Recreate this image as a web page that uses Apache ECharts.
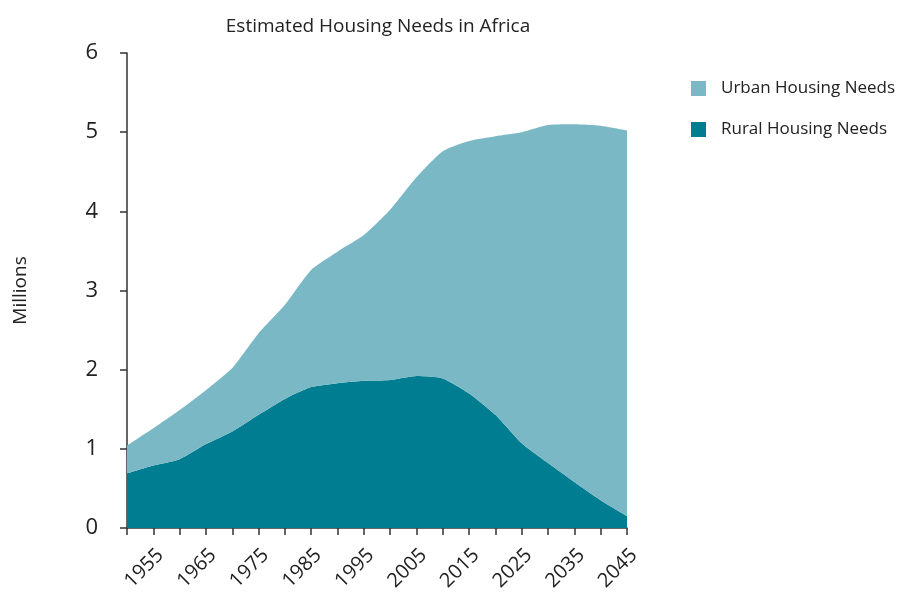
<!DOCTYPE html>
<html><head><meta charset="utf-8">
<script src="https://cdn.jsdelivr.net/npm/echarts@6/dist/echarts.min.js"></script>
<style>html,body{margin:0;padding:0;background:#fff}#c{width:910px;height:593px}</style>
</head><body><div id="c"></div>
<script>
const years = ['1950','1955','1960','1965','1970','1975','1980','1985','1990','1995','2000','2005','2010','2015','2020','2025','2030','2035','2040','2045'];
const rural = [0.69,0.79,0.87,1.06,1.22,1.43,1.63,1.78,1.83,1.86,1.87,1.92,1.89,1.70,1.43,1.07,0.82,0.58,0.35,0.15];
const urban = [0.35,0.47,0.62,0.68,0.80,1.03,1.19,1.48,1.66,1.84,2.15,2.51,2.87,3.19,3.52,3.93,4.27,4.52,4.73,4.87];
const yTicks = [0,1,2,3,4,5,6];

const font = '"Open Sans", "Noto Sans", sans-serif';
const chart = echarts.init(document.getElementById('c'));
chart.setOption({
  animation:false,
  textStyle:{fontFamily:font},
  title:{text:'Estimated Housing Needs in Africa', left:373, top:12, textAlign:'center',
    textStyle:{fontFamily:font, fontSize:19, fontWeight:'normal', color:'#222'}},
  legend:{data:['Urban Housing Needs','Rural Housing Needs'], orient:'vertical', left:686, top:75,
    itemWidth:15, itemHeight:15, itemGap:24, icon:'rect',
    textStyle:{fontFamily:font, fontSize:17, color:'#222', padding:[0,0,0,10]}},
  grid:{left:127, right:283, top:53, bottom:65, containLabel:false, outerBoundsMode:'none'},
  xAxis:{type:'category', data:years, boundaryGap:false,
    axisLine:{show:true, lineStyle:{color:'#333', width:1.5}},
    axisTick:{show:true, length:7, interval:0, lineStyle:{color:'#333', width:1.5}},
    splitLine:{show:false},
    axisLabel:{rotate:45, fontSize:20, color:'#222', margin:17, verticalAlign:'top',
      interval:(idx)=> idx % 2 === 1}},
  yAxis:{type:'value', min:yTicks[0], max:yTicks[yTicks.length-1], interval:1,
    name:'Millions', nameLocation:'middle', nameGap:97, nameRotate:90,
    nameTextStyle:{fontFamily:font, fontSize:19, color:'#222'},
    axisLine:{show:true, lineStyle:{color:'#333', width:1.5}},
    axisTick:{show:true, length:7, lineStyle:{color:'#333', width:1.5}},
    splitLine:{show:false},
    axisLabel:{fontSize:22, color:'#222', margin:29}},
  series:[
    {name:'Rural Housing Needs', type:'line', stack:'t', smooth:0.2, symbol:'none',
      lineStyle:{width:0}, areaStyle:{color:'#007D91', opacity:1}, itemStyle:{color:'#007D91'},
      data: rural},
    {name:'Urban Housing Needs', type:'line', stack:'t', smooth:0.2, symbol:'none',
      lineStyle:{width:0}, areaStyle:{color:'#7AB8C5', opacity:1}, itemStyle:{color:'#7AB8C5'},
      data: urban}
  ]
});
</script></body></html>
